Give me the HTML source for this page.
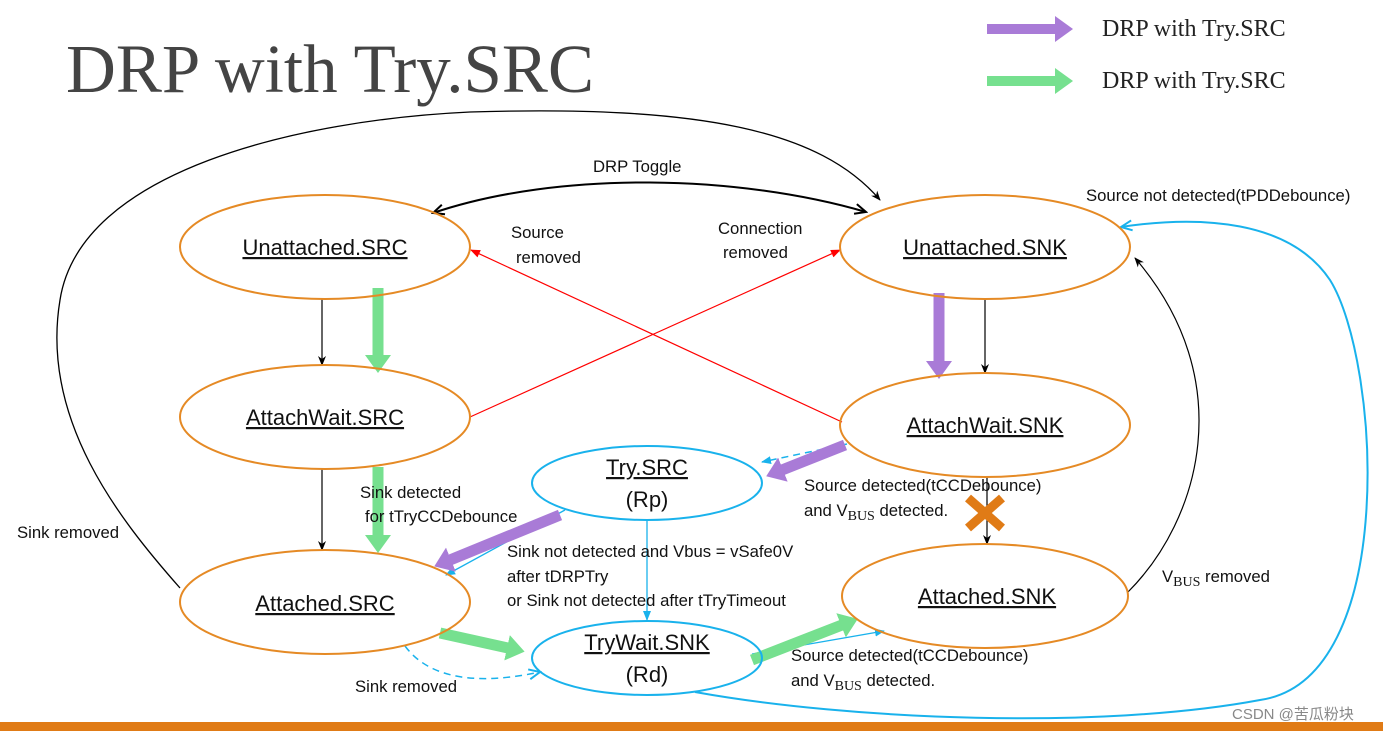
<!DOCTYPE html>
<html><head><meta charset="utf-8"><style>
html,body{margin:0;padding:0;background:#fff;}
svg{display:block;font-family:"Liberation Sans",sans-serif;}
.st{font-size:22px;fill:#111;text-decoration:underline;}
.lb{font-size:16.7px;fill:#111;}
</style></head><body>
<svg width="1383" height="731" viewBox="0 0 1383 731" xmlns="http://www.w3.org/2000/svg">
<defs>
<marker id="ak" markerWidth="10" markerHeight="10" refX="9" refY="5" orient="auto" markerUnits="userSpaceOnUse"><path d="M0,1 L10,5 L0,9 L3,5z" fill="#000"/></marker>
<marker id="ao" markerWidth="14" markerHeight="12" refX="12" refY="6" orient="auto-start-reverse" markerUnits="userSpaceOnUse"><path d="M1,1 L12,6 L1,11" fill="none" stroke="#000" stroke-width="2"/></marker>
<marker id="ar" markerWidth="10" markerHeight="10" refX="9" refY="5" orient="auto" markerUnits="userSpaceOnUse"><path d="M0,1 L10,5 L0,9z" fill="#f00"/></marker>
<marker id="ab" markerWidth="10" markerHeight="10" refX="9" refY="5" orient="auto" markerUnits="userSpaceOnUse"><path d="M0,1 L10,5 L0,9z" fill="#19b2ec"/></marker>
<marker id="abo" markerWidth="14" markerHeight="12" refX="12" refY="6" orient="auto" markerUnits="userSpaceOnUse"><path d="M1,1 L12,6 L1,11" fill="none" stroke="#19b2ec" stroke-width="2"/></marker>
<marker id="ap" markerWidth="18" markerHeight="26" refX="1" refY="13" orient="auto" markerUnits="userSpaceOnUse"><path d="M0,0 L18,13 L0,26z" fill="#a97bd7"/></marker>
<marker id="ag" markerWidth="18" markerHeight="26" refX="1" refY="13" orient="auto" markerUnits="userSpaceOnUse"><path d="M0,0 L18,13 L0,26z" fill="#76e08f"/></marker>
</defs>

<text x="66" y="92" font-family="Liberation Serif,serif" font-size="69" fill="#444">DRP with Try.SRC</text>
<line x1="987" y1="29" x2="1056" y2="29" stroke="#a97bd7" stroke-width="10" marker-end="url(#ap)"/>
<text x="1102" y="36" font-family="Liberation Serif,serif" font-size="24" fill="#222">DRP with Try.SRC</text>
<line x1="987" y1="81" x2="1056" y2="81" stroke="#76e08f" stroke-width="10" marker-end="url(#ag)"/>
<text x="1102" y="88" font-family="Liberation Serif,serif" font-size="24" fill="#222">DRP with Try.SRC</text>

<path d="M180,588 C120,520 40,420 60,300 C80,170 300,120 470,112 C700,105 820,130 880,200" fill="none" stroke="#000" stroke-width="1.3" marker-end="url(#ak)"/>
<path d="M433,213 C560,170 740,175 866,212" fill="none" stroke="#000" stroke-width="2" marker-start="url(#ao)" marker-end="url(#ao)"/>
<text x="593" y="172" class="lb">DRP Toggle</text>

<line x1="322" y1="299" x2="322" y2="365" stroke="#000" stroke-width="1.2" marker-end="url(#ak)"/>
<line x1="322" y1="469" x2="322" y2="550" stroke="#000" stroke-width="1.2" marker-end="url(#ak)"/>
<line x1="985" y1="299" x2="985" y2="373" stroke="#000" stroke-width="1.2" marker-end="url(#ak)"/>
<line x1="987" y1="477" x2="987" y2="544" stroke="#000" stroke-width="1.2" marker-end="url(#ak)"/>
<path d="M1128,592 C1200,520 1240,380 1135,258" fill="none" stroke="#000" stroke-width="1.2" marker-end="url(#ak)"/>

<line x1="470" y1="417" x2="840" y2="250" stroke="#f00" stroke-width="1.2" marker-end="url(#ar)"/>
<line x1="842" y1="422" x2="471" y2="250" stroke="#f00" stroke-width="1.2" marker-end="url(#ar)"/>

<line x1="647" y1="520" x2="647" y2="620" stroke="#19b2ec" stroke-width="1.3" marker-end="url(#ab)"/>
<line x1="565" y1="510" x2="446" y2="575" stroke="#19b2ec" stroke-width="1.3" marker-end="url(#ab)"/>
<line x1="752" y1="654" x2="884" y2="631" stroke="#19b2ec" stroke-width="1.3" marker-end="url(#ab)"/>
<path d="M847,444 L762,462" fill="none" stroke="#19b2ec" stroke-width="1.5" stroke-dasharray="7,5" marker-end="url(#ab)"/>
<path d="M405,646 C430,680 480,685 540,672" fill="none" stroke="#19b2ec" stroke-width="1.5" stroke-dasharray="7,5" marker-end="url(#abo)"/>
<path d="M695,692 C850,720 1100,730 1260,700 C1400,680 1380,360 1330,280 C1290,220 1200,215 1121,227" fill="none" stroke="#19b2ec" stroke-width="2" marker-end="url(#abo)"/>

<line x1="378" y1="288" x2="378" y2="356" stroke="#76e08f" stroke-width="11" marker-end="url(#ag)"/>
<line x1="378" y1="467" x2="378" y2="536" stroke="#76e08f" stroke-width="11" marker-end="url(#ag)"/>
<line x1="939" y1="293" x2="939" y2="362" stroke="#a97bd7" stroke-width="11" marker-end="url(#ap)"/>
<line x1="845" y1="445" x2="782" y2="470" stroke="#a97bd7" stroke-width="11" marker-end="url(#ap)"/>
<line x1="560" y1="515" x2="450" y2="560" stroke="#a97bd7" stroke-width="11" marker-end="url(#ap)"/>
<line x1="440" y1="633" x2="508" y2="648" stroke="#76e08f" stroke-width="11" marker-end="url(#ag)"/>
<line x1="752" y1="660" x2="842" y2="625" stroke="#76e08f" stroke-width="11" marker-end="url(#ag)"/>

<g stroke="#e07b16" stroke-width="9">
<line x1="968" y1="498" x2="1002" y2="528"/><line x1="1002" y1="498" x2="968" y2="528"/>
</g>

<g fill="none" stroke="#e58a25" stroke-width="2">
<ellipse cx="325" cy="247" rx="145" ry="52"/>
<ellipse cx="325" cy="417" rx="145" ry="52"/>
<ellipse cx="325" cy="602" rx="145" ry="52"/>
<ellipse cx="985" cy="247" rx="145" ry="52"/>
<ellipse cx="985" cy="425" rx="145" ry="52"/>
<ellipse cx="985" cy="596" rx="143" ry="52"/>
</g>
<g fill="none" stroke="#19b2ec" stroke-width="2">
<ellipse cx="647" cy="483" rx="115" ry="37"/>
<ellipse cx="647" cy="658" rx="115" ry="37"/>
</g>

<text x="325" y="255" text-anchor="middle" class="st">Unattached.SRC</text>
<text x="325" y="425" text-anchor="middle" class="st">AttachWait.SRC</text>
<text x="325" y="611" text-anchor="middle" class="st">Attached.SRC</text>
<text x="985" y="255" text-anchor="middle" class="st">Unattached.SNK</text>
<text x="985" y="433" text-anchor="middle" class="st">AttachWait.SNK</text>
<text x="987" y="604" text-anchor="middle" class="st">Attached.SNK</text>
<text x="647" y="475" text-anchor="middle" class="st">Try.SRC</text>
<text x="647" y="507" text-anchor="middle" style="font-size:22px;fill:#111">(Rp)</text>
<text x="647" y="650" text-anchor="middle" class="st">TryWait.SNK</text>
<text x="647" y="682" text-anchor="middle" style="font-size:22px;fill:#111">(Rd)</text>

<text x="511" y="238" class="lb">Source</text>
<text x="516" y="263" class="lb">removed</text>
<text x="718" y="234" class="lb">Connection</text>
<text x="723" y="258" class="lb">removed</text>
<text x="1086" y="201" class="lb">Source not detected(tPDDebounce)</text>
<text x="360" y="498" class="lb">Sink detected</text>
<text x="365" y="522" class="lb">for tTryCCDebounce</text>
<text x="17" y="538" class="lb">Sink removed</text>
<text x="804" y="491" class="lb">Source detected(tCCDebounce)</text>
<text x="804" y="516" class="lb">and V<tspan font-family="Liberation Serif,serif" font-size="14" dy="4">BUS</tspan><tspan dy="-4"> detected.</tspan></text>
<text x="507" y="557" class="lb">Sink not detected and Vbus = vSafe0V</text>
<text x="507" y="582" class="lb">after tDRPTry</text>
<text x="507" y="606" class="lb">or Sink not detected after tTryTimeout</text>
<text x="1162" y="582" class="lb">V<tspan font-family="Liberation Serif,serif" font-size="14" dy="4">BUS</tspan><tspan dy="-4"> removed</tspan></text>
<text x="791" y="661" class="lb">Source detected(tCCDebounce)</text>
<text x="791" y="686" class="lb">and V<tspan font-family="Liberation Serif,serif" font-size="14" dy="4">BUS</tspan><tspan dy="-4"> detected.</tspan></text>
<text x="355" y="692" class="lb">Sink removed</text>
<text x="1232" y="719" style="font-size:15px;fill:#888;font-family:'Liberation Sans','Noto Sans CJK SC',sans-serif">CSDN @苦瓜粉块</text>

<rect x="0" y="722" width="1383" height="9" fill="#e07b16"/>
</svg>
</body></html>
